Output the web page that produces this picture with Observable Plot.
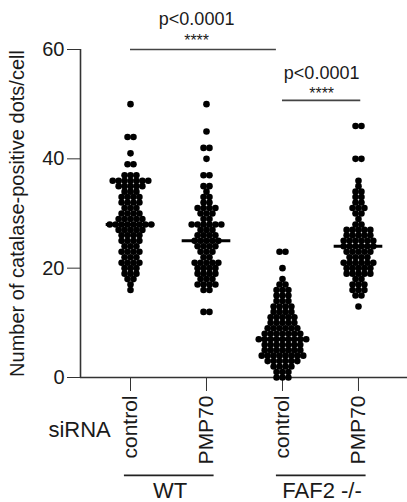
<!DOCTYPE html>
<html><head><meta charset="utf-8">
<script src="https://cdn.jsdelivr.net/npm/d3@7"></script>
<script src="https://cdn.jsdelivr.net/npm/@observablehq/plot@0.6"></script>
<style>body{margin:0;background:#fff} #chart svg{display:block}</style>
</head><body><div id="chart"></div>
<script>
// ---- data ----
const groups = ["WT control", "WT PMP70", "FAF2 control", "FAF2 PMP70"];
const tickLabels = ["control", "PMP70", "control", "PMP70"];

const wtControlValues = [50, 44, 41, 39, 37, 36, 35, 34, 33, 32, 31, 30, 29, 28, 27, 26, 25, 24, 23, 22, 21, 20, 19, 18, 17, 16];
const wtControlCounts = [ 1,  2,  1,  2,  3,  7,  5,  3,  4,  4,  3,  4,  5,  8,  5,  4,  4,  3,  4,  3,  4,  3,  3,  2,  1,  1];

const wtPmp70Values = [50, 45, 42, 40, 37, 35, 34, 33, 32, 31, 30, 29, 28, 27, 26, 25, 24, 23, 22, 21, 20, 19, 18, 17, 16, 12];
const wtPmp70Counts = [ 1,  1,  2,  1,  2,  2,  1,  2,  2,  4,  3,  2,  6,  3,  4,  5,  4,  3,  2,  5,  4,  4,  3,  4,  2,  2];

const faf2ControlValues = [23, 20, 18, 17, 16, 15, 14, 13, 12, 11, 10, 9, 8, 7, 6, 5, 4, 3, 2, 1, 0];
const faf2ControlCounts = [ 2,  1,  1,  2,  3,  3,  3,  4,  4,  5,  5, 6, 7, 9, 7, 7, 8, 6, 4, 3, 3];

const faf2Pmp70Values = [46, 40, 36, 35, 34, 33, 32, 31, 30, 29, 28, 27, 26, 25, 24, 23, 22, 21, 20, 19, 18, 17, 16, 15, 13];
const faf2Pmp70Counts = [ 2,  2,  1,  1,  2,  2,  2,  3,  2,  1,  2,  5,  5,  6,  6,  5,  4,  6,  5,  5,  2,  3,  3,  2,  1];

const genotypeLabels = ["WT", "FAF2 -/-"];
const genotypeFirstGroup = [0, 2];
const genotypeLastGroup = [1, 3];

const pLabels = ["p<0.0001", "p<0.0001"];
const starLabels = ["****", "****"];
const compareFrom = [0, 2];
const compareTo = [2, 3];

const yLabel = "Number of catalase-positive dots/cell";
const yTicks = [0, 20, 40, 60];

// ---- layout settings ----
const xDomain = [-0.658, 3.645];
const dotStep = 0.078;         // horizontal spacing of dots in a row (group units)
const medianHalf = 0.32;
const sigLevels = [60, 50.7];
const pTextLevels = [64.4, 54.6];
const starLevels = [60.6, 50.9];
const sigEndInset = [-0.08, 0.03];

// ---- build points (GraphPad-like scatter: one row per integer value) ----
const valueSets = [
  [wtControlValues, wtControlCounts],
  [wtPmp70Values, wtPmp70Counts],
  [faf2ControlValues, faf2ControlCounts],
  [faf2Pmp70Values, faf2Pmp70Counts]
];
const points = [];
const medians = [];
valueSets.forEach(([vals, counts], gi) => {
  const all = [];
  vals.forEach((v, k) => {
    const n = counts[k];
    for (let j = 0; j < n; j++) {
      points.push({group: groups[gi], gi, value: v, x: gi + (j - (n - 1) / 2) * dotStep});
      all.push(v);
    }
  });
  medians.push({gi, median: d3.median(all)});
});

const sig = pLabels.map((p, i) => ({
  p, stars: starLabels[i],
  x1: compareFrom[i], x2: compareTo[i] + sigEndInset[i],
  mid: (compareFrom[i] + compareTo[i] + sigEndInset[i]) / 2 - (i === 0 ? 0.09 : 0),
  level: sigLevels[i], pLevel: pTextLevels[i], sLevel: starLevels[i]
}));

const genotypes = genotypeLabels.map((g, i) => ({
  g, x1: genotypeFirstGroup[i] - 0.08, x2: genotypeLastGroup[i] + 0.1,
  mid: (genotypeFirstGroup[i] + genotypeLastGroup[i]) / 2 + 0.02
}));

const ink = "#1a1a1a";
const font = "'Liberation Sans', Arial, Helvetica, sans-serif";

const chart = Plot.plot({
  width: 407,
  height: 502,
  marginLeft: 80,
  marginRight: 0,
  marginTop: 49,
  marginBottom: 125,
  x: {domain: xDomain, axis: null},
  y: {domain: [0, 60], axis: null},
  style: {fontFamily: font, background: "#fff", overflow: "visible", color: ink},
  marks: [
    Plot.axisY({ticks: yTicks, tickSize: 13, tickPadding: 3, fontSize: 20, stroke: "#333", fill: ink,
      label: yLabel, labelAnchor: "center", labelArrow: "none", labelOffset: 71}),
    Plot.axisX({ticks: [0, 1, 2, 3], tickFormat: i => tickLabels[i], tickSize: 14, tickPadding: 4,
      tickRotate: -90, fontSize: 21, stroke: "#333", fill: ink, label: null}),
    Plot.ruleY([0], {stroke: "#333", strokeWidth: 1.6}),
    Plot.ruleX([xDomain[0]], {stroke: "#333", strokeWidth: 1.6}),
    Plot.dot(points, {x: "x", y: "value", r: 3.3, fill: "#000", stroke: null}),
    Plot.ruleY(medians, {y: "median", x1: d => d.gi - medianHalf, x2: d => d.gi + medianHalf, stroke: "#000", strokeWidth: 3}),
    // significance brackets
    Plot.ruleY(sig, {y: "level", x1: "x1", x2: "x2", stroke: "#444", strokeWidth: 1.6}),
    Plot.text(sig, {x: "mid", y: "pLevel", text: "p", fontSize: 18, lineAnchor: "bottom", fill: ink}),
    Plot.text(sig, {x: "mid", y: "sLevel", text: "stars", fontSize: 16, lineAnchor: "bottom", fill: ink}),
    // below-axis annotations
    Plot.text(["siRNA"], {x: -0.26, y: -10.97, text: d => d, textAnchor: "end", lineAnchor: "bottom", fontSize: 22, fill: ink}),
    Plot.ruleY(genotypes, {y: -17.9, x1: "x1", x2: "x2", stroke: "#222", strokeWidth: 1.6}),
    Plot.text(genotypes, {x: "mid", y: -22.1, text: "g", lineAnchor: "bottom", fontSize: 22, fill: ink,
      fontStyle: d => d.g === "WT" ? "normal" : "italic"})
  ]
});
document.getElementById("chart").appendChild(chart);
</script>
</body></html>
